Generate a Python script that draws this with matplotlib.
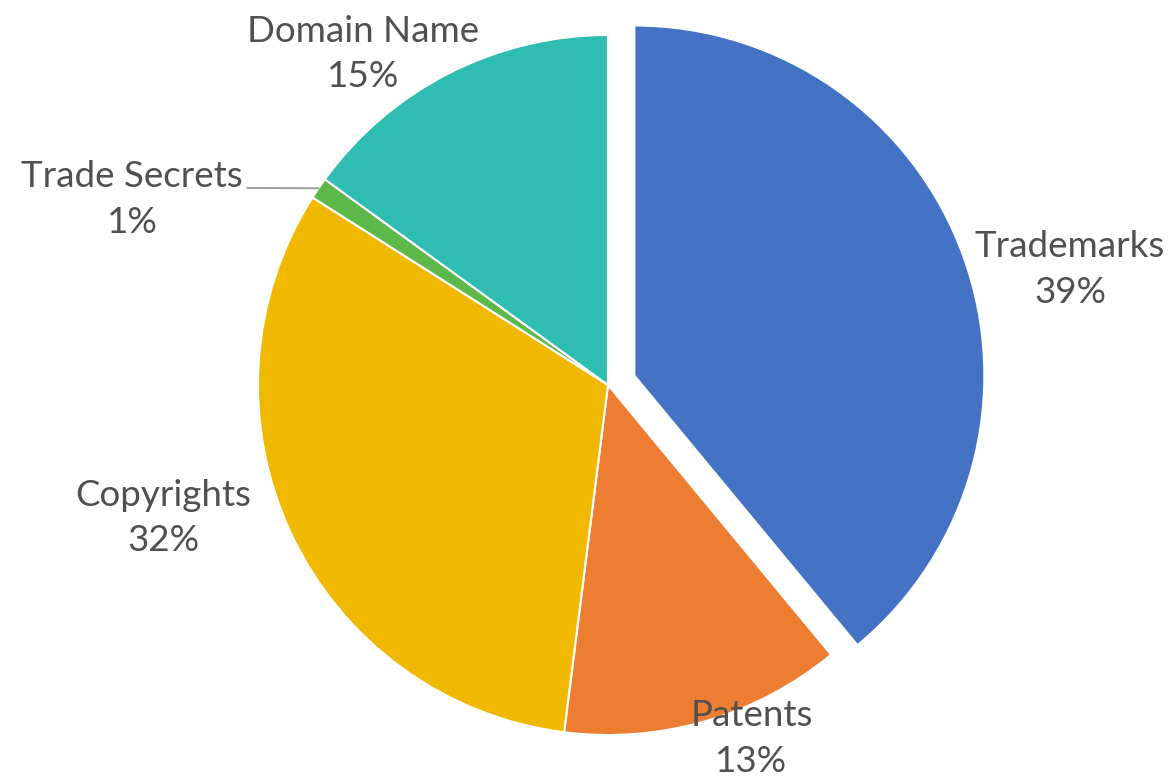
import matplotlib.pyplot as plt
import numpy as np

categories = ["Trademarks", "Patents", "Copyrights", "Trade Secrets", "Domain Name"]
shares = [39, 13, 32, 1, 15]
colors = ["#4472C4", "#ED7D31", "#F0B900", "#5CB848", "#2EBDB0"]
explode = [0.08, 0, 0, 0, 0]

# label centres in pie-radius units (relative to pie centre)
label_pos = {
    "Trademarks": (1.32, 0.33),
    "Patents": (0.41, -1.01),
    "Copyrights": (-1.27, -0.38),
    "Trade Secrets": (-1.36, 0.53),
    "Domain Name": (-0.70, 0.945),
}

plt.rcParams["font.family"] = ["Lato", "DejaVu Sans"]
fig = plt.figure(figsize=(11.7, 7.84), dpi=100)
ax = fig.add_axes([0, 0, 1, 1])

wedges, _ = ax.pie(
    shares,
    colors=colors,
    explode=explode,
    startangle=90,
    counterclock=False,
    radius=1.0,
    wedgeprops=dict(edgecolor="white", linewidth=1.5),
)

# pie centre at (608, 385) px, radius 350 px
ax.set_xlim(-608 / 350, (1170 - 608) / 350)
ax.set_ylim(-(784 - 385) / 350, 385 / 350)
ax.set_aspect("auto")
ax.axis("off")

for name, val in zip(categories, shares):
    x, y = label_pos[name]
    ax.text(x, y, f"{name}\n{val}%", ha="center", va="center",
            fontsize=26.5, color="#505050", linespacing=1.45)

# leader line for the tiny slice
w = wedges[categories.index("Trade Secrets")]
mid = np.deg2rad((w.theta1 + w.theta2) / 2)
ax.plot([-1.03, np.cos(mid)], [0.563, np.sin(mid)], color="#999999", lw=1.3)

fig.savefig("out.png", dpi=100, facecolor="white")
